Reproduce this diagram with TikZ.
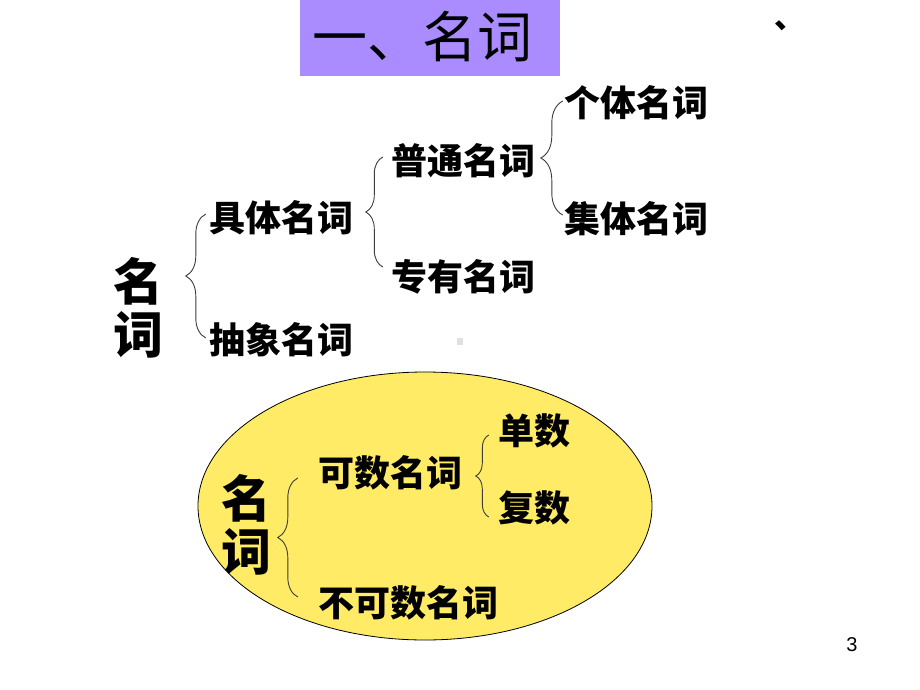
\documentclass[tikz,border=0pt]{standalone}
\usepackage{fontspec}
\setmainfont{Liberation Sans}
\newfontfamily\cjk{Noto Sans CJK SC}
\usetikzlibrary{decorations.pathreplacing}
\definecolor{titlepurple}{RGB}{170,140,255}
\definecolor{ovalyellow}{RGB}{255,235,102}
\definecolor{bracegray}{RGB}{60,60,60}
\begin{document}
\begin{tikzpicture}[x=1pt,y=-1pt,
  lbl/.style={inner sep=0pt, font=\cjk\bfseries\fontsize{36}{36}\selectfont},
  big/.style={inner sep=0pt, align=center, font=\cjk\bfseries\fontsize{50}{53}\selectfont},
  brc/.style={draw=bracegray, line width=0.9pt, decorate,
              decoration={brace, amplitude=#1}},
  brc/.default=18pt]
\useasboundingbox (0,0) rectangle (920,690);
% title
\node[fill=titlepurple, minimum width=260pt, minimum height=76pt, inner sep=0pt] (titlebox) at (430,38) {};
\node[inner sep=0pt, font=\cjk\fontsize{55}{55}\selectfont] (title) at (422,37) {一、名词};
\node[inner sep=0pt, anchor=base west, font=\cjk\bfseries\fontsize{31}{31}\selectfont] (mark) at (774,29) {、};
% upper tree
\node[big] (n1) at (138,308) {名\\词};
\node[lbl] (c1) at (281,218) {具体名词};
\node[lbl] (c2) at (281,340) {抽象名词};
\node[lbl] (p1) at (463,161) {普通名词};
\node[lbl] (p2) at (463,277) {专有名词};
\node[lbl] (g1) at (636,103) {个体名词};
\node[lbl] (g2) at (636,219) {集体名词};
\draw[brc=20pt] ([xshift=-3pt,yshift=2pt]c2.west) -- ([xshift=-3pt,yshift=4pt]c1.west);
\draw[brc=17pt] ([xshift=-8pt,yshift=10pt]p2.west) -- ([xshift=-8pt,yshift=4pt]p1.west);
\draw[brc=22pt] ([xshift=-1pt,yshift=4pt]g2.west) -- ([xshift=-1pt,yshift=2pt]g1.west);
\fill[black!12] (457,338) rectangle (463,345);
% oval
\draw[fill=ovalyellow, line width=0.8pt] (425,506) ellipse [x radius=227, y radius=134];
\node[big] (n2) at (246,525) {名\\词};
\node[lbl] (k1) at (390,473) {可数名词};
\node[lbl] (k2) at (408,603) {不可数名词};
\node[lbl] (s1) at (534,431) {单数};
\node[lbl] (s2) at (534,508) {复数};
\coordinate (b4) at ([xshift=-20pt,yshift=-5pt]k1.west);
\draw[brc=20pt] (b4 |- 0,597) -- (b4);
\coordinate (b5) at ([xshift=-9pt,yshift=-4pt]s1.west);
\draw[brc=13pt] (b5 |- 0,517) -- (b5);
% page number
\node[inner sep=0pt, font=\fontsize{20}{20}\selectfont] (pg) at (852,645) {3};
\end{tikzpicture}
\end{document}
